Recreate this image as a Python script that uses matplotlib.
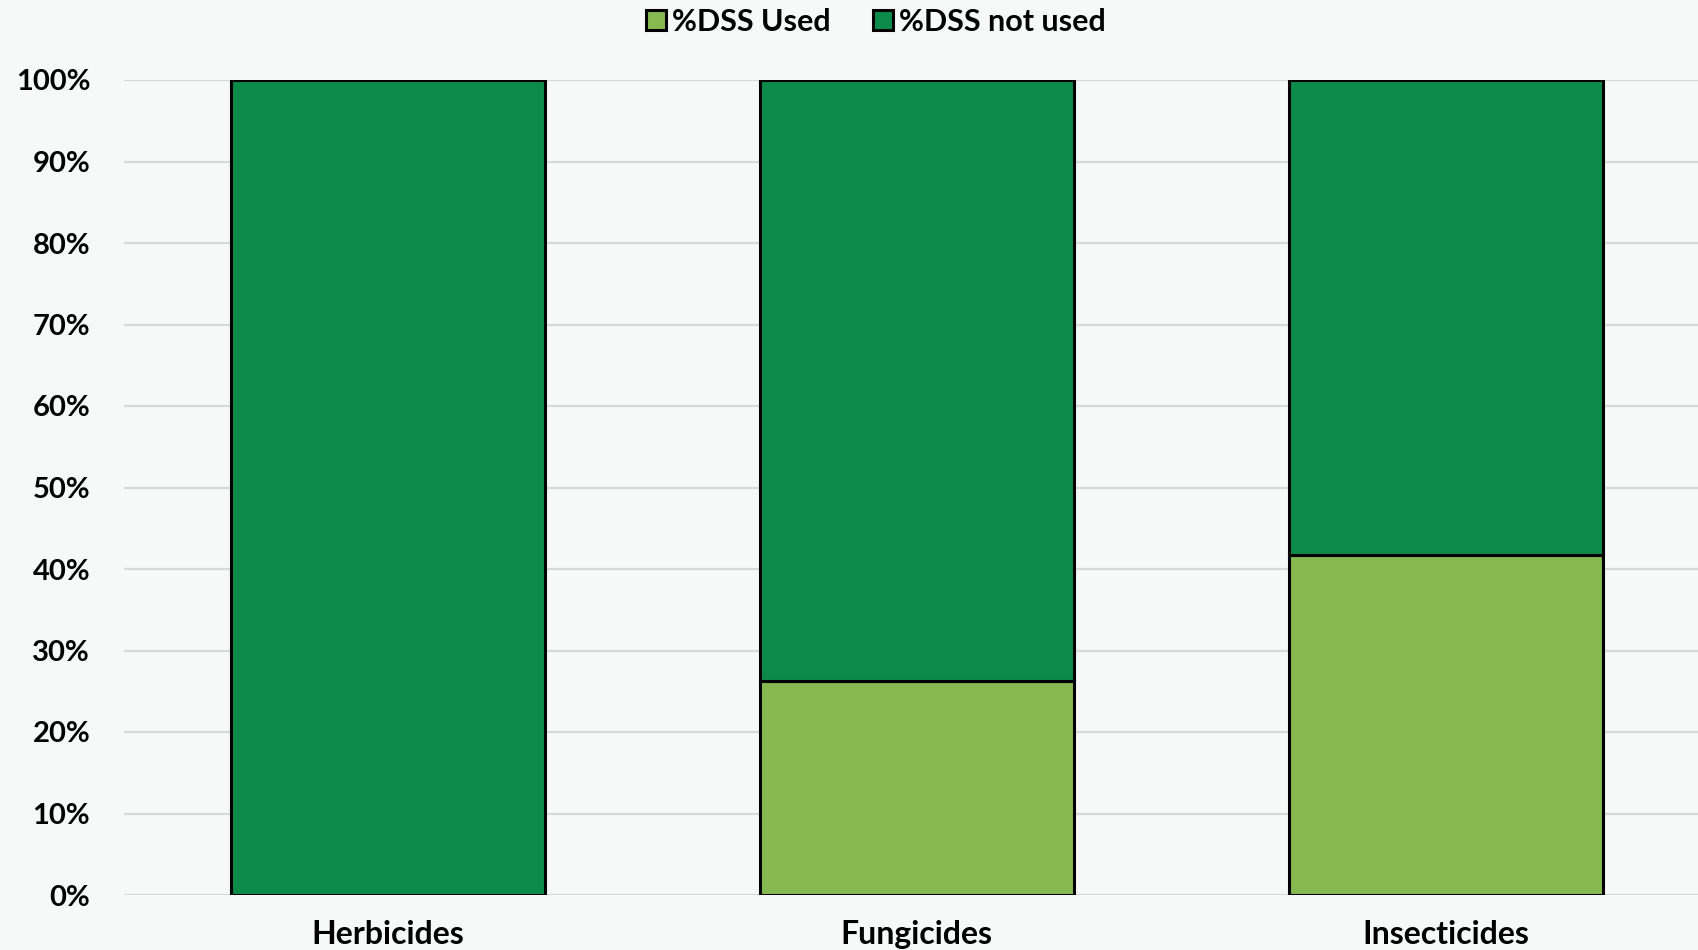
import matplotlib.pyplot as plt
import numpy as np

categories = ["Herbicides", "Fungicides", "Insecticides"]
dss_used = [0.0, 26.3, 41.7]
dss_not_used = [100.0, 73.7, 58.3]
y_ticks = [0, 10, 20, 30, 40, 50, 60, 70, 80, 90, 100]

bg = "#f6f9f8"
light_green = "#86b94f"
dark_green = "#0c8a4a"

plt.rcParams['font.family'] = ['Lato', 'DejaVu Sans']
plt.rcParams['font.weight'] = 'bold'

my_figsize = (16.98, 9.50)
my_dpi = 100

fig = plt.figure(figsize=my_figsize, dpi=my_dpi, facecolor=bg)
# axes run past the right edge of the figure
ax = fig.add_axes([123.5 / 1698, 1 - 895 / 950, (1710 - 123.5) / 1698, (895 - 80) / 950])
ax.set_facecolor(bg)

x = np.arange(len(categories))
width = 0.594
ax.bar(x, dss_used, width, color=light_green, edgecolor="black", linewidth=2.2,
       label="%DSS Used", zorder=3)
ax.bar(x, dss_not_used, width, bottom=dss_used, color=dark_green, edgecolor="black",
       linewidth=2.2, label="%DSS not used", zorder=3)

ax.set_xlim(-0.5, 2.5)
ax.set_ylim(0, 100)
ax.set_yticks(y_ticks)
ax.set_yticklabels([f"{t}%" for t in y_ticks], fontsize=21, fontweight='bold')
ax.set_xticks(x)
ax.set_xticklabels(categories, fontsize=23, fontweight='bold')
ax.tick_params(axis='both', length=0)
ax.tick_params(axis='y', pad=24)
ax.tick_params(axis='x', pad=18)
ax.yaxis.grid(True, color="#d9d9d9", linewidth=1.6, zorder=0)
ax.set_axisbelow(True)
for s in ax.spines.values():
    s.set_visible(False)

leg = fig.legend(loc="center", bbox_to_anchor=(876 / 1698, 1 - 22 / 950), ncol=2,
                 frameon=False, fontsize=22, handlelength=0.65, handleheight=0.65,
                 handletextpad=0.2, columnspacing=1.4)

plt.savefig("out.png", dpi=my_dpi, facecolor=bg)
